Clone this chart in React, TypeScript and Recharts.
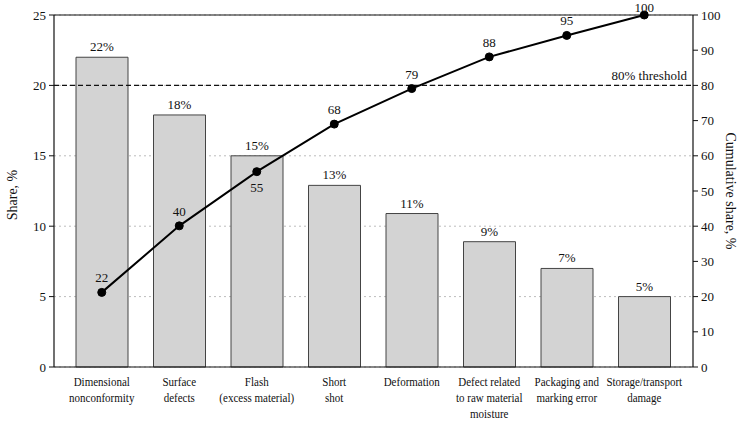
import React from 'react';
import {
  ComposedChart, Bar, Line, XAxis, YAxis, CartesianGrid, ReferenceLine, LabelList, Label,
} from 'recharts';

const categories = [
  'Dimensional\nnonconformity',
  'Surface\ndefects',
  'Flash\n(excess material)',
  'Short\nshot',
  'Deformation',
  'Defect related\nto raw material\nmoisture',
  'Packaging and\nmarking error',
  'Storage/transport\ndamage',
];
const shares = [22.0, 17.9, 15.0, 12.9, 10.9, 8.9, 7.0, 5.0];
const shareLabels = ['22%', '18%', '15%', '13%', '11%', '9%', '7%', '5%'];
const cumulative = [21.2, 40.1, 55.5, 69.0, 79.1, 88.1, 94.2, 100];
const cumulativeLabels = ['22', '40', '55', '68', '79', '88', '95', '100'];
const leftTicks = [0, 5, 10, 15, 20, 25];
const rightTicks = [0, 10, 20, 30, 40, 50, 60, 70, 80, 90, 100];

const data = categories.map((c, i) => ({
  name: c,
  share: shares[i],
  shareLabel: shareLabels[i],
  cum: cumulative[i],
  cumLabel: cumulativeLabels[i],
}));

const FONT = '"Liberation Serif", "Times New Roman", serif';
const FS = 13;

const CategoryTick = (props: any) => {
  const { x, y, payload } = props;
  const lines = String(payload.value).split('\n');
  return (
    <g transform={`translate(${x},${y}) scale(0.88,1)`}>
      <text x={0} y={0} textAnchor="middle" fontFamily={FONT} fontSize={12.5} fill="#111">
        {lines.map((l, i) => (
          <tspan key={i} x={0} dy={i === 0 ? 11 : 16}>{l}</tspan>
        ))}
      </text>
    </g>
  );
};

const CumLabel = (props: any) => {
  const { x, y, index, value } = props;
  const below = index === 2;
  const ty = below ? y + 20 : Math.max(y - 10, 12);
  return (
    <text x={x} y={ty} textAnchor="middle" fontFamily={FONT} fontSize={FS} fill="#111">
      {value}
    </text>
  );
};

const BarLabel = (props: any) => {
  const { x, y, width, value } = props;
  return (
    <text x={x + width / 2} y={y - 6} textAnchor="middle" fontFamily={FONT} fontSize={FS} fill="#111">
      {value}
    </text>
  );
};

export default function App() {
  return (
    <div style={{ position: 'absolute', left: 0, top: 0, width: 740, height: 422, background: '#fff' }}>
      <ComposedChart
        width={740}
        height={422}
        data={data}
        margin={{ top: 15, right: 7, bottom: 5, left: 14 }}
      >
        <CartesianGrid
          yAxisId="left"
          vertical={false}
          stroke="#bdbdbd"
          strokeDasharray="2 3"
        />
        <XAxis
          dataKey="name"
          interval={0}
          tickLine={false}
          axisLine={{ stroke: '#111', strokeWidth: 1.2 }}
          height={50}
          padding={{ left: 9, right: 10 }}
          tick={<CategoryTick />}
        />
        <YAxis
          yAxisId="left"
          domain={[0, 25]}
          ticks={leftTicks}
          width={40}
          tickSize={5}
          tickMargin={3}
          axisLine={{ stroke: '#111', strokeWidth: 1.2 }}
          tickLine={{ stroke: '#111' }}
          tick={{ fontFamily: FONT, fontSize: FS, fill: '#111' }}
        >
          <Label
            content={(p: any) => {
              const vb = p.viewBox;
              const cx = vb.x - 2;
              const cy = vb.y + vb.height / 2 + 4;
              return (
                <text
                  x={cx}
                  y={cy}
                  transform={`rotate(-90 ${cx} ${cy})`}
                  textAnchor="middle"
                  dominantBaseline="central"
                  fontFamily={FONT}
                  fontSize={14}
                  fill="#111"
                >
                  Share, %
                </text>
              );
            }}
          />
        </YAxis>
        <YAxis
          yAxisId="right"
          orientation="right"
          domain={[0, 100]}
          ticks={rightTicks}
          width={40}
          tickSize={5}
          tickMargin={3}
          axisLine={{ stroke: '#111', strokeWidth: 1.2 }}
          tickLine={{ stroke: '#111' }}
          tick={{ fontFamily: FONT, fontSize: FS, fill: '#111' }}
        >
          <Label
            content={(p: any) => {
              const vb = p.viewBox;
              const cx = vb.x + 37;
              const cy = vb.y + vb.height / 2;
              return (
                <text
                  x={cx}
                  y={cy}
                  transform={`rotate(90 ${cx} ${cy})`}
                  textAnchor="middle"
                  dominantBaseline="central"
                  fontFamily={FONT}
                  fontSize={14}
                  fill="#111"
                >
                  Cumulative share, %
                </text>
              );
            }}
          />
        </YAxis>
        <ReferenceLine yAxisId="left" y={25} stroke="#111" strokeWidth={1.2} />
        <Bar
          yAxisId="left"
          dataKey="share"
          barSize={52}
          fill="#d3d3d3"
          stroke="#444"
          strokeWidth={1}
          isAnimationActive={false}
        >
          <LabelList dataKey="shareLabel" content={<BarLabel />} />
        </Bar>
        <ReferenceLine
          yAxisId="left"
          y={20}
          stroke="#111"
          strokeWidth={1.2}
          strokeDasharray="5 3"
        >
          <Label
            content={(p: any) => {
              const vb = p.viewBox;
              return (
                <text
                  x={vb.x + vb.width - 6}
                  y={vb.y - 5}
                  textAnchor="end"
                  fontFamily={FONT}
                  fontSize={FS}
                  fill="#111"
                >
                  80% threshold
                </text>
              );
            }}
          />
        </ReferenceLine>
        <Line
          yAxisId="right"
          dataKey="cum"
          stroke="#000"
          strokeWidth={2}
          dot={{ r: 4, fill: '#000', stroke: '#000', strokeWidth: 1 }}
          isAnimationActive={false}
        >
          <LabelList dataKey="cumLabel" content={<CumLabel />} />
        </Line>
      </ComposedChart>
    </div>
  );
}
